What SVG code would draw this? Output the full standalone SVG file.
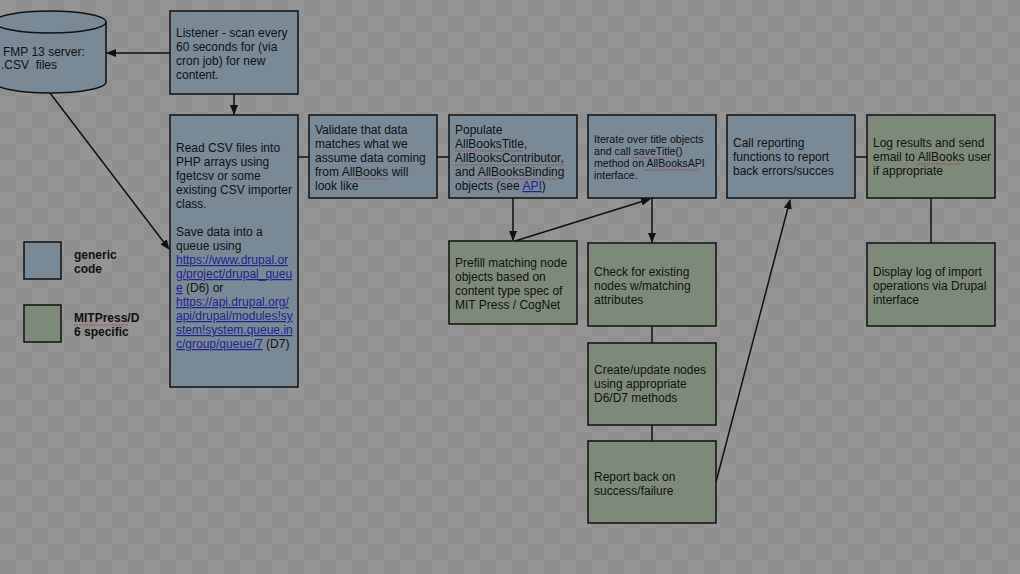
<svg xmlns="http://www.w3.org/2000/svg" width="1020" height="574" viewBox="0 0 1020 574">
<style>
.b{fill:#7a8996;stroke:#111;stroke-width:1.5}
.g{fill:#7d8a79;stroke:#111;stroke-width:1.5}
text{font-family:"Liberation Sans",Arial,sans-serif;font-size:12px;fill:#111}
.s{font-size:10.6px}
.lk{fill:#1f2290;text-decoration:underline}
.bold{font-weight:bold}
.c{stroke:#111;stroke-width:1.5;fill:none}
.sq{stroke:#a33;stroke-width:0.8;stroke-dasharray:1.5 1;fill:none}
</style>
<defs>
<pattern id="chk" width="32" height="32" patternUnits="userSpaceOnUse">
<rect width="32" height="32" fill="#8f8f8f"/>
<rect width="16" height="16" fill="#959595"/>
<rect x="16" y="16" width="16" height="16" fill="#959595"/>
</pattern>
<marker id="ah" markerWidth="10" markerHeight="8" refX="9" refY="4" orient="auto" markerUnits="userSpaceOnUse">
<path d="M0,0 L10,4 L0,8 z" fill="#111"/>
</marker>
</defs>
<rect width="1020" height="574" fill="url(#chk)"/>

<g id="connectors">
<line class="c" x1="170" y1="53" x2="107" y2="53" marker-end="url(#ah)"/>
<line class="c" x1="234" y1="94" x2="234" y2="114" marker-end="url(#ah)"/>
<line class="c" x1="50" y1="93" x2="169" y2="249" marker-end="url(#ah)"/>
<line class="c" x1="298" y1="157" x2="309" y2="157"/>
<line class="c" x1="437" y1="157" x2="449" y2="157"/>
<line class="c" x1="855" y1="157" x2="867" y2="157"/>
<line class="c" x1="513" y1="198" x2="513" y2="240" marker-end="url(#ah)"/>
<line class="c" x1="515" y1="241" x2="650" y2="199" marker-end="url(#ah)"/>
<line class="c" x1="652" y1="198" x2="652" y2="242" marker-end="url(#ah)"/>
<line class="c" x1="652" y1="326" x2="652" y2="343"/>
<line class="c" x1="652" y1="425" x2="652" y2="441"/>
<line class="c" x1="716" y1="482" x2="790" y2="200" marker-end="url(#ah)"/>
<line class="c" x1="931" y1="198" x2="931" y2="243"/>
</g>

<g id="fmp">
<path class="b" d="M-6,22 L-6,82 A56,11 0 0 0 106,82 L106,22"/>
<ellipse class="b" cx="50" cy="22" rx="56" ry="11"/>
<text x="3" y="56">FMP 13 server:</text>
<text x="1" y="69" xml:space="preserve">.CSV  files</text>
</g>

<g id="listener">
<rect class="b" x="170" y="11" width="128" height="83"/>
<text x="176" y="37">Listener - scan every</text>
<text x="176" y="51">60 seconds for (via</text>
<text x="176" y="65">cron job) for new</text>
<text x="176" y="79">content.</text>
</g>

<g id="readcsv">
<rect class="b" x="170" y="115" width="128" height="272"/>
<text x="176" y="152">Read CSV files into</text>
<text x="176" y="166">PHP arrays using</text>
<text x="176" y="180">fgetcsv or some</text>
<text x="176" y="194">existing CSV importer</text>
<text x="176" y="208">class.</text>
<text x="176" y="236">Save data into a</text>
<text x="176" y="250">queue using</text>
<text x="176" y="264" class="lk">https://www.drupal.or</text>
<text x="176" y="278" class="lk">g/project/drupal_queu</text>
<text x="176" y="292"><tspan class="lk">e</tspan> (D6) or</text>
<text x="176" y="306" class="lk">https://api.drupal.org/</text>
<text x="176" y="320" class="lk">api/drupal/modules!sy</text>
<text x="176" y="334" class="lk">stem!system.queue.in</text>
<text x="176" y="348"><tspan class="lk">c/group/queue/7</tspan> (D7)</text>
</g>

<g id="validate">
<rect class="b" x="309" y="115" width="128" height="83"/>
<text x="315" y="134">Validate that data</text>
<text x="315" y="148">matches what we</text>
<text x="315" y="162">assume data coming</text>
<text x="315" y="176">from AllBooks will</text>
<text x="315" y="190">look like</text>
<path class="sq" d="M345,179 H388"/>
</g>

<g id="populate">
<rect class="b" x="449" y="115" width="128" height="83"/>
<text x="455" y="134">Populate</text>
<text x="455" y="148">AllBooksTitle,</text>
<text x="455" y="162">AllBooksContributor,</text>
<text x="455" y="176">and AllBooksBinding</text>
<text x="455" y="190">objects (see <tspan class="lk">API</tspan>)</text>
<path class="sq" d="M455,151 H523 M455,165 H565 M477,179 H560"/>
</g>

<g id="iterate">
<rect class="b" x="588" y="115" width="128" height="83"/>
<text class="s" x="594" y="143">Iterate over title objects</text>
<text class="s" x="594" y="155">and call saveTitle()</text>
<text class="s" x="594" y="167">method on AllBooksAPI</text>
<text class="s" x="594" y="179">interface.</text>
<path class="sq" d="M633,158 H669 M644,170 H699"/>
</g>

<g id="callreport">
<rect class="b" x="727" y="115" width="128" height="83"/>
<text x="733" y="147">Call reporting</text>
<text x="733" y="161">functions to report</text>
<text x="733" y="175">back errors/succes</text>
</g>

<g id="logresults">
<rect class="g" x="867" y="115" width="128" height="83"/>
<text x="873" y="147">Log results and send</text>
<text x="873" y="161">email to AllBooks user</text>
<text x="873" y="175">if appropriate</text>
<path class="sq" d="M916,164 H961"/>
</g>

<g id="prefill">
<rect class="g" x="449" y="241" width="128" height="83"/>
<text x="455" y="267">Prefill matching node</text>
<text x="455" y="281">objects based on</text>
<text x="455" y="295">content type spec of</text>
<text x="455" y="309">MIT Press / CogNet</text>
</g>

<g id="check">
<rect class="g" x="588" y="243" width="128" height="83"/>
<text x="594" y="276">Check for existing</text>
<text x="594" y="290">nodes w/matching</text>
<text x="594" y="304">attributes</text>
</g>

<g id="create">
<rect class="g" x="588" y="343" width="128" height="82"/>
<text x="594" y="374">Create/update nodes</text>
<text x="594" y="388">using appropriate</text>
<text x="594" y="402">D6/D7 methods</text>
</g>

<g id="reportback">
<rect class="g" x="588" y="441" width="128" height="82"/>
<text x="594" y="481">Report back on</text>
<text x="594" y="495">success/failure</text>
</g>

<g id="display">
<rect class="g" x="867" y="243" width="128" height="83"/>
<text x="873" y="276">Display log of import</text>
<text x="873" y="290">operations via Drupal</text>
<text x="873" y="304">interface</text>
</g>

<g id="legend-generic">
<rect class="b" x="24" y="242" width="37" height="37"/>
<text class="bold" x="74" y="259">generic</text>
<text class="bold" x="74" y="273">code</text>
</g>

<g id="legend-mit">
<rect class="g" x="24" y="305" width="37" height="37"/>
<text class="bold" x="74" y="322">MITPress/D</text>
<text class="bold" x="74" y="336">6 specific</text>
<path class="sq" d="M74,325 H128"/>
</g>
</svg>
